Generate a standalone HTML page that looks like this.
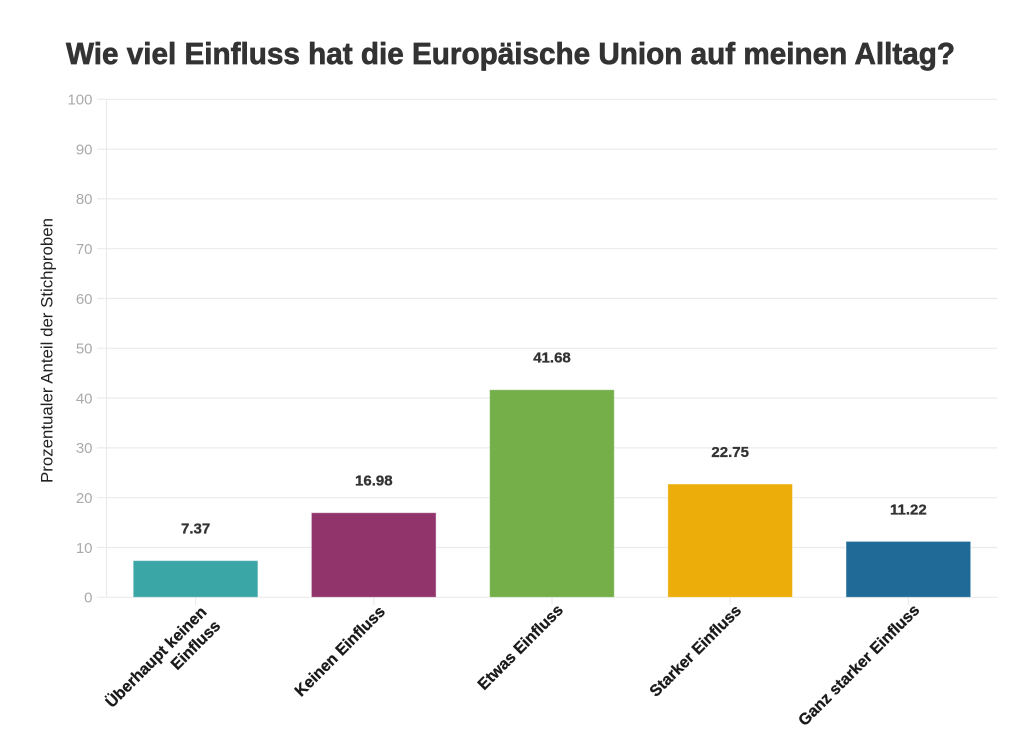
<!DOCTYPE html>
<html><head><meta charset="utf-8"><style>
html,body{margin:0;padding:0;background:#fff;}
svg{display:block;}
</style></head><body>
<svg width="1024" height="740" viewBox="0 0 1024 740" xmlns="http://www.w3.org/2000/svg" font-family="'Liberation Sans', sans-serif">
<rect width="1024" height="740" fill="#fff"/>
<text x="66" y="64" font-size="30.5" font-weight="bold" fill="#333" stroke="#333" stroke-width="0.7" textLength="889" lengthAdjust="spacingAndGlyphs">Wie viel Einfluss hat die Europäische Union auf meinen Alltag?</text>
<g stroke="#ebebeb" stroke-width="1.2">
<line x1="97" y1="99.3" x2="997.5" y2="99.3"/>
<line x1="97" y1="149.1" x2="997.5" y2="149.1"/>
<line x1="97" y1="198.9" x2="997.5" y2="198.9"/>
<line x1="97" y1="248.7" x2="997.5" y2="248.7"/>
<line x1="97" y1="298.5" x2="997.5" y2="298.5"/>
<line x1="97" y1="348.3" x2="997.5" y2="348.3"/>
<line x1="97" y1="398.1" x2="997.5" y2="398.1"/>
<line x1="97" y1="447.9" x2="997.5" y2="447.9"/>
<line x1="97" y1="497.7" x2="997.5" y2="497.7"/>
<line x1="97" y1="547.5" x2="997.5" y2="547.5"/>
<line x1="97" y1="597.3" x2="997.5" y2="597.3"/>
<line x1="106.5" y1="99.3" x2="106.5" y2="597.3"/>
<line x1="195.6" y1="597.3" x2="195.6" y2="605"/>
<line x1="373.8" y1="597.3" x2="373.8" y2="605"/>
<line x1="552" y1="597.3" x2="552" y2="605"/>
<line x1="730.2" y1="597.3" x2="730.2" y2="605"/>
<line x1="908.4" y1="597.3" x2="908.4" y2="605"/>
</g>
<g font-size="15" fill="#aaaaaa" text-anchor="end">
<text x="92.5" y="104.6">100</text>
<text x="92.5" y="154.4">90</text>
<text x="92.5" y="204.2">80</text>
<text x="92.5" y="254">70</text>
<text x="92.5" y="303.8">60</text>
<text x="92.5" y="353.6">50</text>
<text x="92.5" y="403.4">40</text>
<text x="92.5" y="453.2">30</text>
<text x="92.5" y="503">20</text>
<text x="92.5" y="552.8">10</text>
<text x="92.5" y="602.6">0</text>
</g>
<text transform="translate(52.5,350.5) rotate(-90)" text-anchor="middle" font-size="16.5" fill="#222" textLength="265" lengthAdjust="spacingAndGlyphs">Prozentualer Anteil der Stichproben</text>
<g stroke="rgba(255,255,255,0.45)" stroke-width="1">
<rect x="133.2" y="560.6" width="124.7" height="36.7" fill="#3aa6a6"/>
<rect x="311.4" y="512.7" width="124.7" height="84.6" fill="#92346c"/>
<rect x="489.6" y="389.7" width="124.7" height="207.6" fill="#74af4a"/>
<rect x="667.8" y="484.0" width="124.7" height="113.3" fill="#ecad0b"/>
<rect x="846.0" y="541.4" width="124.7" height="55.9" fill="#1f6a96"/>
</g>
<g font-size="15" font-weight="bold" fill="#333" stroke="#333" stroke-width="0.3" text-anchor="middle">
<text x="195.6" y="533.6">7.37</text>
<text x="373.8" y="485.7">16.98</text>
<text x="552" y="362.7">41.68</text>
<text x="730.2" y="457">22.75</text>
<text x="908.4" y="514.4">11.22</text>
</g>
<g font-size="16" font-weight="bold" fill="#1a1a1a" stroke="#1a1a1a" stroke-width="0.3" text-anchor="end">
<g transform="translate(207.5,613) rotate(-45)"><text x="0" y="0">Überhaupt keinen</text><text x="0" y="19.5">Einfluss</text></g>
<g transform="translate(386,612.5) rotate(-45)"><text x="0" y="0">Keinen Einfluss</text></g>
<g transform="translate(564,611) rotate(-45)"><text x="0" y="0">Etwas Einfluss</text></g>
<g transform="translate(742.2,611.5) rotate(-45)"><text x="0" y="0">Starker Einfluss</text></g>
<g transform="translate(920.4,611) rotate(-45)"><text x="0" y="0">Ganz starker Einfluss</text></g>
</g>
</svg>
</body></html>
